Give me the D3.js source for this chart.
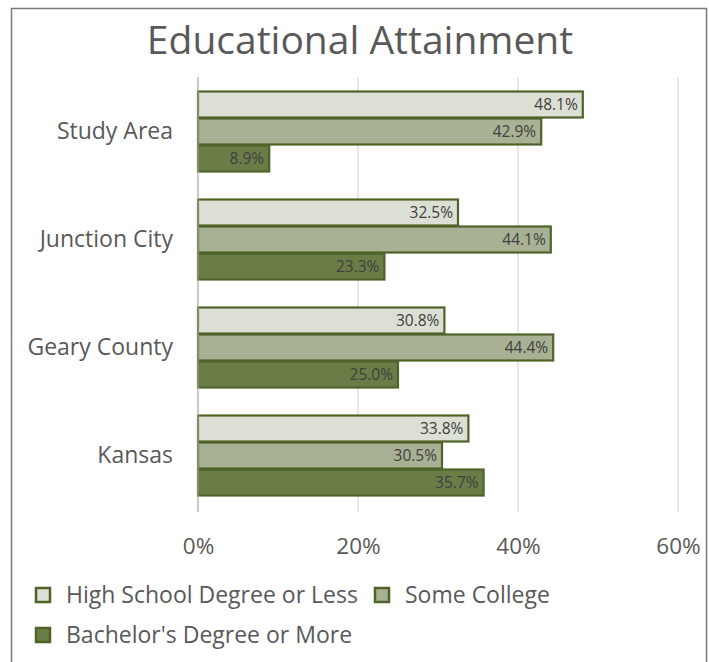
<!DOCTYPE html>
<html>
<head>
<meta charset="utf-8">
<script src="https://cdn.jsdelivr.net/npm/d3@7"></script>
<style>
  html, body { margin: 0; padding: 0; background: #fff; }
  svg { display: block; font-family: "Open Sans", sans-serif; }
</style>
</head>
<body>
<svg id="chart" width="709" height="662"></svg>
<script>
// Educational attainment shares by area (percent)
const categories = ["Study Area", "Junction City", "Geary County", "Kansas"];
const seriesNames = ["High School Degree or Less", "Some College", "Bachelor's Degree or More"];
const highSchool = [48.1, 32.5, 30.8, 33.8];
const someCollege = [42.9, 44.1, 44.4, 30.5];
const bachelors = [8.9, 23.3, 25.0, 35.7];
const tickValues = [0, 20, 40, 60];
const seriesColors = ["#dcdfd4", "#a8b193", "#6b7d47"];
const strokeColor = "#4f6328";

const seriesValues = [highSchool, someCollege, bachelors];

const svg = d3.select("#chart");

// outer frame
svg.append("rect")
  .attr("x", 11.5).attr("y", 8.5)
  .attr("width", 695).attr("height", 670)
  .attr("fill", "#fff")
  .attr("stroke", "#7a7a7a").attr("stroke-width", 1.5);

// title
svg.append("text")
  .attr("x", 360).attr("y", 54)
  .attr("text-anchor", "middle")
  .attr("font-size", 39)
  .attr("fill", "#595959")
  .text("Educational Attainment");

const x = d3.scaleLinear().domain([0, 60]).range([198, 678]);
const y = d3.scaleBand().domain(categories).range([77.5, 509.5])
  .paddingInner(0.25).paddingOuter(0.125);
const ySub = d3.scaleBand().domain(d3.range(seriesNames.length))
  .range([0, y.bandwidth()]);

// vertical gridlines
svg.append("g").selectAll("line")
  .data(tickValues.filter(d => d > 0))
  .join("line")
  .attr("x1", d => x(d)).attr("x2", d => x(d))
  .attr("y1", 77).attr("y2", 512)
  .attr("stroke", "#d9d9d9").attr("stroke-width", 1.2);

// x axis tick labels
const xAxis = d3.axisBottom(x).tickValues(tickValues)
  .tickFormat(d => d + "%").tickSize(0).tickPadding(0);
const gx = svg.append("g").attr("transform", "translate(0,554)").call(xAxis);
gx.select(".domain").remove();
gx.selectAll("text")
  .attr("font-family", "Open Sans, sans-serif")
  .attr("font-size", 22.5)
  .attr("fill", "#595959")
  .attr("y", 0)
  .attr("dy", 0);

// category axis labels
const yAxis = d3.axisLeft(y).tickSize(0).tickPadding(0);
const gy = svg.append("g").attr("transform", "translate(173,0)").call(yAxis);
gy.select(".domain").remove();
gy.selectAll("text")
  .attr("font-family", "Open Sans, sans-serif")
  .attr("font-size", 23)
  .attr("fill", "#595959");

// bars
const groups = svg.append("g").selectAll("g")
  .data(categories)
  .join("g")
  .attr("transform", c => `translate(0,${y(c)})`);

groups.each(function (c, ci) {
  const g = d3.select(this);
  seriesValues.forEach((vals, si) => {
    const v = vals[ci];
    g.append("rect")
      .attr("x", x(0))
      .attr("y", ySub(si) + 0.5)
      .attr("width", x(v) - x(0))
      .attr("height", ySub.bandwidth() - 1)
      .attr("fill", seriesColors[si])
      .attr("stroke", strokeColor)
      .attr("stroke-width", 2.2);
    g.append("text")
      .attr("x", x(v) - 5)
      .attr("y", ySub(si) + ySub.bandwidth() / 2)
      .attr("dy", "0.36em")
      .attr("text-anchor", "end")
      .attr("font-size", 15.5)
      .attr("fill", "#404040")
      .text(v.toFixed(1) + "%");
  });
});

// zero axis line
svg.append("line")
  .attr("x1", x(0)).attr("x2", x(0))
  .attr("y1", 77).attr("y2", 512)
  .attr("stroke", "#a6a6a6").attr("stroke-width", 1.2);

// legend
const legendItems = [
  { name: seriesNames[0], color: seriesColors[0], x: 36, y: 595 },
  { name: seriesNames[1], color: seriesColors[1], x: 375, y: 595 },
  { name: seriesNames[2], color: seriesColors[2], x: 36, y: 635 }
];
const lg = svg.append("g").selectAll("g").data(legendItems).join("g")
  .attr("transform", d => `translate(${d.x},${d.y})`);
lg.append("rect")
  .attr("x", 0).attr("y", -7)
  .attr("width", 14).attr("height", 14)
  .attr("fill", d => d.color)
  .attr("stroke", strokeColor).attr("stroke-width", 2.5);
lg.append("text")
  .attr("x", 30).attr("dy", "0.35em")
  .attr("font-size", 23)
  .attr("fill", "#595959")
  .text(d => d.name);
</script>
</body>
</html>
